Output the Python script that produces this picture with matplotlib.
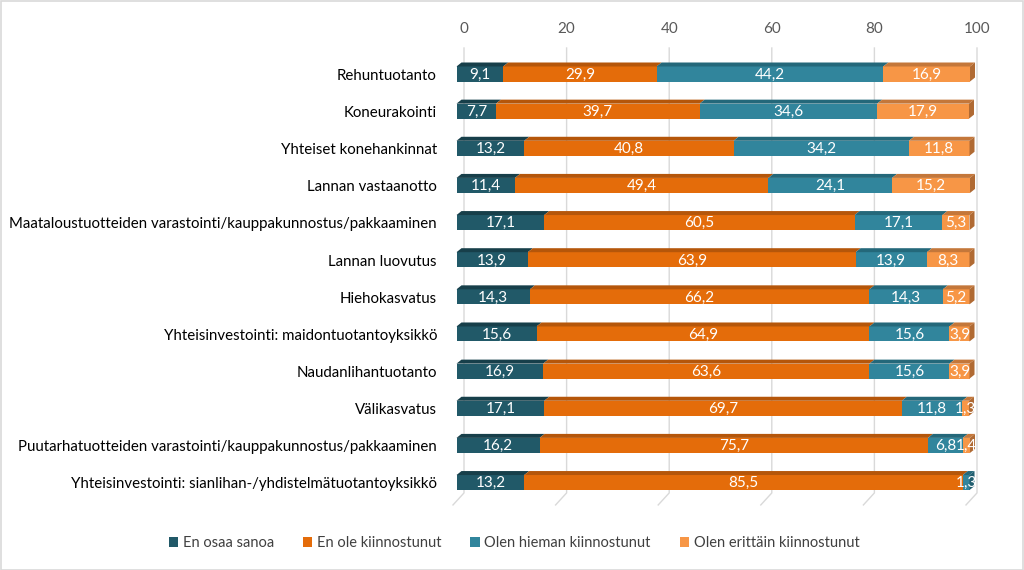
import matplotlib
matplotlib.use("Agg")
import matplotlib.pyplot as plt
from matplotlib.patches import Polygon, Patch, Rectangle

plt.rcParams['font.family'] = ['Lato', 'DejaVu Sans']

categories = [
    "Rehuntuotanto",
    "Koneurakointi",
    "Yhteiset konehankinnat",
    "Lannan vastaanotto",
    "Maataloustuotteiden varastointi/kauppakunnostus/pakkaaminen",
    "Lannan luovutus",
    "Hiehokasvatus",
    "Yhteisinvestointi: maidontuotantoyksikkö",
    "Naudanlihantuotanto",
    "Välikasvatus",
    "Puutarhatuotteiden varastointi/kauppakunnostus/pakkaaminen",
    "Yhteisinvestointi: sianlihan-/yhdistelmätuotantoyksikkö",
]
en_osaa = [9.1, 7.7, 13.2, 11.4, 17.1, 13.9, 14.3, 15.6, 16.9, 17.1, 16.2, 13.2]
ei_kiinn = [29.9, 39.7, 40.8, 49.4, 60.5, 63.9, 66.2, 64.9, 63.6, 69.7, 75.7, 85.5]
hieman = [44.2, 34.6, 34.2, 24.1, 17.1, 13.9, 14.3, 15.6, 15.6, 11.8, 6.8, 1.3]
erittain = [16.9, 17.9, 11.8, 15.2, 5.3, 8.3, 5.2, 3.9, 3.9, 1.3, 1.4, 0.0]
series_names = ["En osaa sanoa", "En ole kiinnostunut",
                "Olen hieman kiinnostunut", "Olen erittäin kiinnostunut"]
series = [en_osaa, ei_kiinn, hieman, erittain]
ticks = [0, 20, 40, 60, 80, 100]

front = ["#215968", "#E46C0A", "#31859C", "#F79646"]
top = ["#173F4A", "#B5560A", "#24687A", "#C4773A"]
side = ["#163B45", "#A24D08", "#225F70", "#B06A33"]

fig = plt.figure(figsize=(10.24, 5.7), dpi=100)
W, H = 1024, 570
# axes: x 0 -> px 464, 100 -> px 977 ; rows centred at 74 + 37.14*i
row_px = 37.14
y_top, y_bot = -0.9, 12.2
ax = fig.add_axes([464 / W, 1 - (74 + y_bot * row_px) / H, 513 / W,
                   (y_bot - y_top) * row_px / H])
ax.set_xlim(0, 100)
ax.set_ylim(y_bot, y_top)
ax.axis("off")

px_x = 100 / 513.0
px_y = 1 / row_px

# gridlines on the back wall with a floor diagonal
for t in ticks:
    ax.plot([t, t, t - 11 * px_x], [-0.7, 11.28, 11.28 + 12 * px_y],
            color="#D9D9D9", lw=1.0, clip_on=False, zorder=1)
    ax.text(t, -1.2, str(t), ha="center", va="center", fontsize=11,
            color="#595959", clip_on=False)

shift = -7.5 * px_x
hh = 0.202
dx, dy = 5 * px_x, 4 * px_y
for i, cat in enumerate(categories):
    left = 0.0
    last = None
    for k, vals in enumerate(series):
        v = vals[i]
        if v <= 0:
            continue
        x0 = left + shift
        x1 = left + v + shift
        ax.add_patch(Rectangle((x0, i - hh), v, 2 * hh, facecolor=front[k],
                               edgecolor="none", zorder=3, clip_on=False))
        ax.add_patch(Polygon([(x0, i - hh), (x1, i - hh), (x1 + dx, i - hh - dy),
                              (x0 + dx, i - hh - dy)], closed=True,
                             facecolor=top[k], edgecolor="none", zorder=3,
                             clip_on=False))
        ax.text((x0 + x1) / 2, i + 0.02, f"{v:.1f}".replace(".", ","),
                ha="center", va="center", fontsize=11, color="white",
                zorder=5, clip_on=False)
        left += v
        last = k
    xe = left + shift
    ax.add_patch(Polygon([(xe, i - hh), (xe + dx, i - hh - dy),
                          (xe + dx, i + hh - dy), (xe, i + hh)], closed=True,
                         facecolor=side[last], edgecolor="none", zorder=3,
                         clip_on=False))
    ax.text(-27 * px_x, i + 0.05, cat, ha="right", va="center", fontsize=10.85,
            color="#000000", clip_on=False)

handles = [Patch(facecolor=c, edgecolor="none") for c in front]
fig.legend(handles, series_names, loc="center", bbox_to_anchor=(0.502, 1 - 543 / H),
           ncol=4, frameon=False, fontsize=10.5, handlelength=0.65, handleheight=0.65,
           columnspacing=2.0, handletextpad=0.3, labelcolor="#404040")

fig.add_artist(Rectangle((0.5 / W, 0.5 / H), 1 - 1.5 / W, 1 - 1.5 / H,
                         transform=fig.transFigure, fill=False,
                         edgecolor="#D9D9D9", lw=1.2))

fig.savefig("out.png", dpi=100)
